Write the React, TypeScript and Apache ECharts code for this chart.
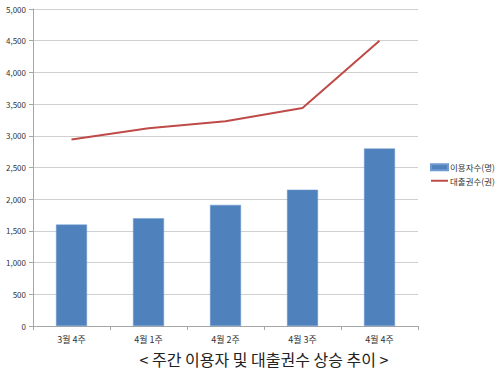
import React, { useEffect, useRef } from "react";
import * as echarts from "echarts";

const categories = ["3월 4주", "4월 1주", "4월 2주", "4월 3주", "4월 4주"];
const users = [1600, 1700, 1910, 2150, 2800];
const loans = [2940, 3120, 3230, 3440, 4500];
const seriesNames = ["이용자수(명)", "대출권수(권)"];
const titleText = "< 주간 이용자 및 대출권수 상승 추이 >";

const FONT = "'Noto Sans CJK KR', 'Noto Sans', sans-serif";

export default function App() {
  const ref = useRef<HTMLDivElement>(null);
  useEffect(() => {
    if (!ref.current) return;
    const chart = echarts.init(ref.current, undefined, { renderer: "svg" });
    chart.setOption({
      animation: false,
      backgroundColor: "#ffffff",
      textStyle: { fontFamily: FONT },
      title: {
        text: titleText,
        left: 259,
        textAlign: "center",
        top: 346,
        textStyle: { fontSize: 16, fontWeight: "normal", color: "#222", fontFamily: FONT },
      },
      legend: {
        orient: "vertical",
        left: 430,
        top: 163,
        padding: 0,
        itemGap: 5,
        itemWidth: 17,
        itemHeight: 6,
        textStyle: { fontSize: 8.5, color: "#333", fontFamily: FONT, padding: [0, 0, 0, -3] },
        data: [
          { name: seriesNames[0], icon: "rect" },
          { name: seriesNames[1], itemStyle: { opacity: 0 } },
        ],
      },
      grid: { left: 33, right: 82, top: 9, bottom: 51 },
      xAxis: {
        type: "category",
        data: categories,
        axisLine: { lineStyle: { color: "#a6a6a6" } },
        axisTick: { show: true, length: 4, lineStyle: { color: "#a6a6a6" } },
        axisLabel: { fontSize: 9, color: "#333", margin: 9, fontFamily: FONT },
      },
      yAxis: {
        type: "value",
        min: 0,
        max: 5000,
        interval: 500,
        axisLine: { show: true, lineStyle: { color: "#a6a6a6" } },
        axisTick: { show: true, length: 4, lineStyle: { color: "#a6a6a6" } },
        splitLine: { lineStyle: { color: "#d0d0d0" } },
        axisLabel: {
          fontSize: 8,
          color: "#333",
          margin: 7,
          fontFamily: FONT,
          formatter: (v: number) => v.toLocaleString("en-US"),
        },
      },
      series: [
        {
          name: seriesNames[0],
          type: "bar",
          data: users,
          barWidth: 31,
          itemStyle: { color: "#4F81BD", borderColor: "#6f9ad0", borderWidth: 0.5 },
        },
        {
          name: seriesNames[1],
          type: "line",
          data: loans,
          symbol: "none",
          lineStyle: { color: "#BE4B48", width: 2 },
          itemStyle: { color: "#BE4B48" },
        },
      ],
    });
    return () => chart.dispose();
  }, []);
  return (
    <div
      ref={ref}
      style={{ position: "fixed", left: 0, top: 0, width: 500, height: 377 }}
    />
  );
}
